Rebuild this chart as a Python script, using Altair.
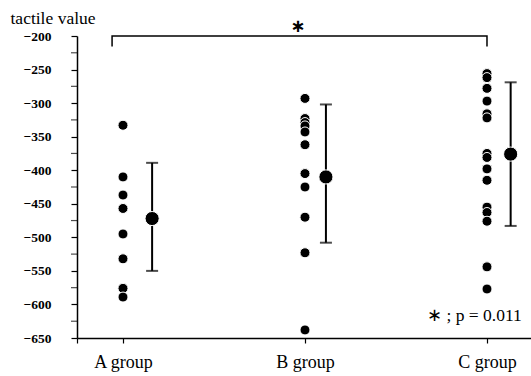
import altair as alt
import pandas as pd

groups = ["A group", "B group", "C group"]
group_pos = [1, 2, 3]
a_vals = [-333, -410, -437, -457, -495, -532, -576, -589]
b_vals = [-293, -323, -329, -334, -343, -362, -405, -425, -470, -523, -638]
c_vals = [-256, -262, -278, -297, -316, -322, -375, -381, -398, -415, -455, -463, -476, -544, -577]
mean_vals = [-472, -410, -376]
mean_pos = [1.16, 2.115, 3.13]
err_hi = [-389, -302, -269]
err_lo = [-550, -508, -483]
y_major = list(range(-650, -199, 50))
y_minor = list(range(-625, -200, 50))
x_min, x_max = 0.7473, 3.2418

SERIF = "Times New Roman, Liberation Serif, Tinos, serif"

pts = pd.DataFrame({
    "x": [1] * len(a_vals) + [2] * len(b_vals) + [3] * len(c_vals),
    "v": a_vals + b_vals + c_vals,
})
means = pd.DataFrame({"x": mean_pos, "m": mean_vals, "hi": err_hi, "lo": err_lo})
caps = pd.DataFrame({"x": mean_pos * 2, "y": err_hi + err_lo})
minor = pd.DataFrame({"x": [x_min] * len(y_minor), "y": y_minor})

xs = alt.Scale(domain=[x_min, x_max], nice=False, zero=False)
ys = alt.Scale(domain=[-650, -200], nice=False, zero=False)

label_map = "{'1': 'A group', '2': 'B group', '3': 'C group'}"
xaxis = alt.Axis(values=[x_min] + group_pos, title=None, grid=False,
                 labelExpr=f"{label_map}[datum.value] || ''", labelOverlap=False,
                 labelFont=SERIF, labelFontSize=18, labelColor="black",
                 labelPadding=10, tickSize=5, tickColor="black", domainColor="black",
                 domainWidth=1.5, tickWidth=1.2)
yaxis = alt.Axis(values=y_major, title="tactile value", grid=False, labelOverlap=False,
                 labelFont=SERIF, labelFontSize=13.5, labelFontWeight="bold",
                 labelColor="black", labelPadding=20, tickSize=6, tickColor="black",
                 domainColor="black", domainWidth=1.5, tickWidth=1.2,
                 titleAngle=0, titleAlign="left", titleBaseline="alphabetic",
                 titleX=-67, titleY=-13, titleFont=SERIF,
                 titleFontSize=17.5, titleFontWeight="normal", titleColor="black")

X = lambda f: alt.X(f, scale=xs, axis=xaxis)
Y = lambda f: alt.Y(f, scale=ys, axis=yaxis)

points = alt.Chart(pts).mark_point(filled=True, color="black", size=100, opacity=1,
                                    stroke="white", strokeWidth=1).encode(
    x=X("x:Q"), y=Y("v:Q"))
minor_ticks = alt.Chart(minor).mark_tick(color="black", thickness=1.2, size=6,
                                          orient="horizontal", xOffset=-3, clip=False).encode(
    x=X("x:Q"), y=Y("y:Q"))
bars = alt.Chart(means).mark_rule(color="black", strokeWidth=2).encode(
    x=X("x:Q"), y=Y("hi:Q"), y2="lo:Q")
capmarks = alt.Chart(caps).mark_tick(color="black", thickness=2, size=12,
                                      orient="horizontal").encode(x=X("x:Q"), y=Y("y:Q"))
meanpts = alt.Chart(means).mark_point(filled=True, color="black", size=200, opacity=1,
                                       stroke="white", strokeWidth=1).encode(x=X("x:Q"), y=Y("m:Q"))

bracket_df = pd.DataFrame({"x": [0.94, 0.94, 3.0, 3.0], "y": [-215.5, -200, -200, -215.5],
                           "o": [0, 1, 2, 3]})
bracket = alt.Chart(bracket_df).mark_line(color="black", strokeWidth=1.5, clip=False).encode(
    x=X("x:Q"), y=Y("y:Q"), order="o:Q")
star = alt.Chart(pd.DataFrame({"x": [1.96], "y": [-200], "t": ["∗"]})).mark_text(
    font="DejaVu Sans", fontSize=18, fontWeight="bold", baseline="bottom", dy=0, color="black"
).encode(x=X("x:Q"), y=Y("y:Q"), text="t:N")
ptext = alt.Chart(pd.DataFrame({"x": [3.191], "y": [-625], "t": ["∗ ; p = 0.011"]})).mark_text(
    font=SERIF, fontSize=17.5, align="right", baseline="alphabetic", color="black"
).encode(x=X("x:Q"), y=Y("y:Q"), text="t:N")

chart = alt.layer(points, bracket, star, minor_ticks, bars, capmarks, meanpts, ptext).properties(
    width=454, height=302,
    padding={"left": 77, "top": 36, "right": 0, "bottom": 38},
    autosize=alt.AutoSizeParams(type="none"),
).configure_view(stroke=None)

chart.save("out.html", embed_options={"renderer": "svg", "actions": False})
